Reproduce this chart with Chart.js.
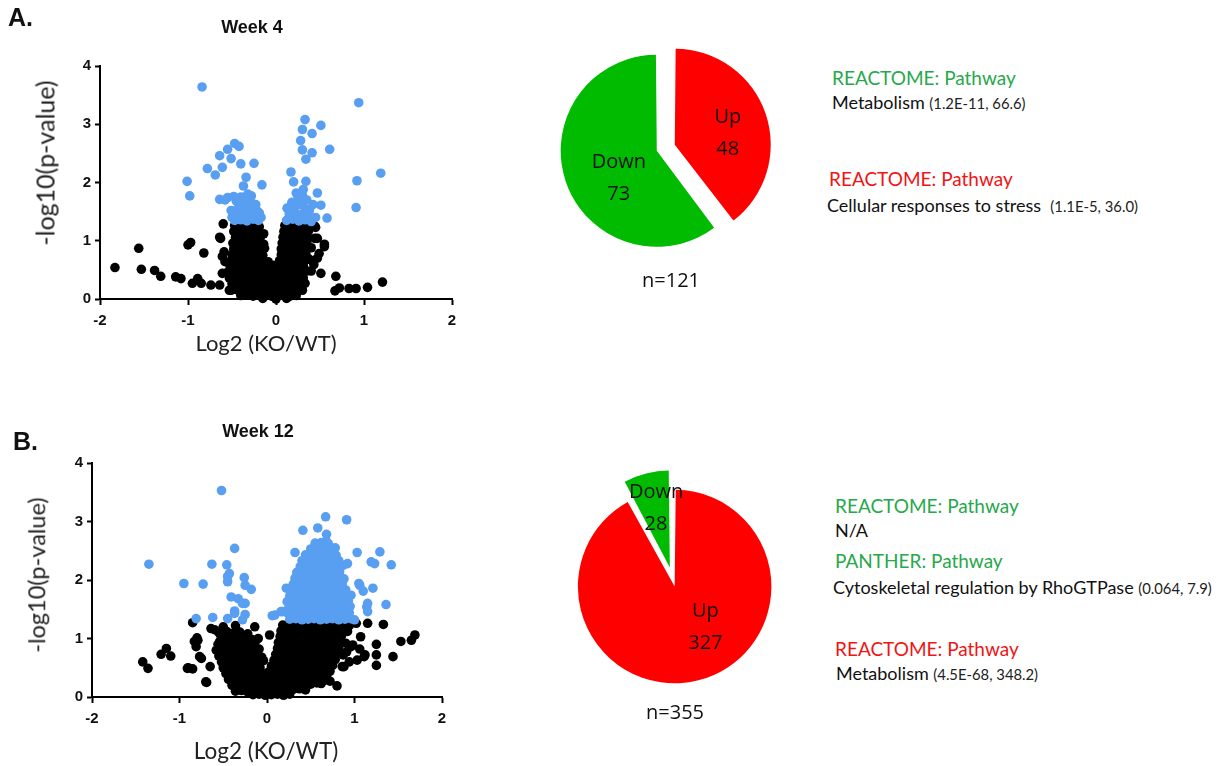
<!DOCTYPE html>
<html>
<head>
<meta charset="utf-8">
<script src="https://cdn.jsdelivr.net/npm/chart.js@4.4.1/dist/chart.umd.min.js"></script>
<style>
html, body { margin: 0; padding: 0; background: #fff; }
#page { position: relative; width: 1225px; height: 766px; overflow: hidden; background: #fff; }
.box { position: absolute; }
.t { position: absolute; white-space: nowrap; line-height: 1; transform: translateY(-50%); color: #111; font-family: Lato, "Open Sans", sans-serif; }
.c { transform: translate(-50%, -50%); }
.rot { transform: translate(-50%, -50%) rotate(-90deg); }
.panel { font-family: "Liberation Sans", Arial, sans-serif; font-weight: bold; font-size: 25px; }
.week { font-family: "Liberation Sans", Arial, sans-serif; font-weight: bold; font-size: 18px; }
.axt { font-size: 22px; color: #222; }
.nlab { font-family: "Open Sans", Lato, sans-serif; font-size: 20px; color: #111; }
.hdr { font-size: 19px; }
.green { color: #27a84b; }
.red { color: #f01414; }
.term { font-size: 18px; color: #111; }
.stat { font-size: 14.8px; color: #222; }
</style>
</head>
<body>
<div id="page">
  <div class="box" style="left:0;top:0;width:470px;height:360px;"><canvas id="volcano4" width="470" height="360"></canvas></div>
  <div class="box" style="left:0;top:400px;width:470px;height:366px;"><canvas id="volcano12" width="470" height="366"></canvas></div>
  <div class="box" style="left:542px;top:29px;width:240px;height:240px;"><canvas id="pie4" width="240" height="240"></canvas></div>
  <div class="box" style="left:553px;top:460px;width:240px;height:240px;"><canvas id="pie12" width="240" height="240"></canvas></div>

  <div class="t panel" style="left:8px;top:17px;">A.</div>
  <div class="t week c" style="left:252px;top:27px;">Week 4</div>
  <div class="t axt rot" style="left:45px;top:163px;font-size:25px;">-log10(p-value)</div>
  <div class="t axt c" style="left:266px;top:343px;">Log2 (KO/WT)</div>
  <div class="t nlab c" style="left:671px;top:280px;">n=121</div>

  <div class="t hdr green" style="left:832px;top:77px;">REACTOME: Pathway</div>
  <div class="t term" style="left:832px;top:102px;">Metabolism <span class="stat">(1.2E-11, 66.6)</span></div>
  <div class="t hdr red" style="left:829px;top:178px;">REACTOME: Pathway</div>
  <div class="t term" style="left:827px;top:205px;">Cellular responses to stress&nbsp; <span class="stat">(1.1E-5, 36.0)</span></div>

  <div class="t panel" style="left:13px;top:441px;">B.</div>
  <div class="t week c" style="left:258px;top:431px;">Week 12</div>
  <div class="t axt rot" style="left:37px;top:575px;font-size:23.5px;">-log10(p-value)</div>
  <div class="t axt c" style="left:266px;top:751px;font-size:22.5px;">Log2 (KO/WT)</div>
  <div class="t nlab c" style="left:675px;top:712px;">n=355</div>

  <div class="t hdr green" style="left:835px;top:505px;">REACTOME: Pathway</div>
  <div class="t term" style="left:835px;top:530px;">N/A</div>
  <div class="t hdr green" style="left:835px;top:560px;">PANTHER: Pathway</div>
  <div class="t term" style="left:833px;top:587px;">Cytoskeletal regulation by RhoGTPase <span class="stat">(0.064, 7.9)</span></div>
  <div class="t hdr red" style="left:835px;top:648px;">REACTOME: Pathway</div>
  <div class="t term" style="left:836px;top:673px;">Metabolism <span class="stat">(4.5E-68, 348.2)</span></div>
</div>

<script>
// Volcano axes: log2 fold change (KO/WT) against -log10(p-value)
const xTicks = [-2, -1, 0, 1, 2];
const yTicks = [0, 1, 2, 3, 4];

// Week 4: significant proteins (p < 0.05)
const week4Significant = [
  [-0.84,3.64],[-0.47,2.67],[-0.42,2.62],[-0.55,2.57],[-0.64,2.46],[-0.51,2.41],[-0.25,2.33],[-0.40,2.32],
  [-0.78,2.24],[-0.61,2.26],[-0.69,2.13],[-0.34,2.09],[-1.01,2.02],[-0.16,1.96],[-0.37,1.94],[-0.98,1.77],
  [-0.64,1.71],[-0.55,1.74],[-0.40,1.75],[-0.28,1.77],[-0.58,1.70],[-0.35,1.75],[-0.32,1.80],
  [-0.47,1.35],[-0.40,1.36],[-0.33,1.34],[-0.26,1.37],[-0.20,1.35],[-0.45,1.45],[-0.38,1.47],[-0.31,1.44],
  [-0.24,1.46],[-0.43,1.56],[-0.36,1.58],[-0.29,1.55],[-0.22,1.52],[-0.33,1.66],[-0.27,1.64],[-0.19,1.48],
  [-0.50,1.40],[-0.41,1.65],[-0.23,1.62],[-0.51,1.52],[-0.17,1.40],[-0.45,1.68],[-0.30,1.72],[-0.48,1.76],
  [0.94,3.37],[0.33,3.08],[0.51,2.98],[0.30,2.91],[0.41,2.84],[0.28,2.72],[0.61,2.57],[0.30,2.56],
  [0.41,2.51],[0.34,2.40],[1.19,2.16],[0.17,2.18],[0.20,2.01],[0.34,2.02],[0.92,2.03],[0.47,1.82],
  [0.91,1.57],[0.51,1.61],[0.58,1.39],[0.125,1.56],
  [0.12,1.35],[0.19,1.37],[0.26,1.34],[0.33,1.36],[0.40,1.33],[0.15,1.46],[0.22,1.48],[0.29,1.45],
  [0.36,1.44],[0.20,1.58],[0.27,1.62],[0.33,1.55],[0.25,1.72],[0.30,1.78],[0.18,1.66],[0.45,1.40],
  [0.31,1.88],[0.29,1.68],[0.38,1.52],[0.35,1.70],[0.23,1.82],[0.42,1.62]
];

// Week 4: non-significant proteins
const week4NonSignificant = [
  [-1.83,0.54],[-1.56,0.87],[-1.53,0.51],[-1.38,0.49],[-1.31,0.39],[-1.14,0.38],[-1.08,0.35],[-0.97,0.97],
  [-1.00,0.93],[-0.89,0.35],[-0.95,0.27],[-0.82,0.79],[-0.74,0.24],[-0.64,0.24],[-0.63,1.04],[-0.60,1.29],
  [-0.59,0.81],[-0.58,0.64],[-0.61,0.44],[-0.53,0.15],[-0.64,1.06],[-0.61,0.73],[-0.85,0.27],[-0.51,0.15],
  [1.21,0.29],[1.04,0.20],[0.91,0.18],[0.83,0.18],[0.72,0.19],[0.67,0.14],[0.68,0.39],[0.51,0.44],
  [0.55,0.94],[0.47,1.04],[0.45,1.23],[0.49,0.78],[0.55,0.90],[0.44,1.04],[0.43,0.59],[0.47,0.70],[0.40,0.48],
  [-0.47,1.26],[-0.40,1.27],[-0.33,1.25],[-0.26,1.26],[-0.19,1.24],
  [-0.48,1.16],[-0.41,1.17],[-0.34,1.15],[-0.27,1.16],[-0.20,1.17],[-0.14,1.12],
  [-0.46,1.06],[-0.39,1.07],[-0.32,1.05],[-0.25,1.06],[-0.18,1.05],
  [-0.49,0.96],[-0.42,0.97],[-0.35,0.95],[-0.28,0.96],[-0.21,0.97],[-0.14,0.94],
  [-0.48,0.86],[-0.41,0.87],[-0.34,0.85],[-0.27,0.86],[-0.20,0.85],[-0.13,0.87],
  [-0.50,0.76],[-0.43,0.77],[-0.36,0.75],[-0.29,0.76],[-0.22,0.77],[-0.15,0.75],
  [-0.51,0.66],[-0.44,0.67],[-0.37,0.65],[-0.30,0.66],[-0.23,0.65],[-0.16,0.67],[-0.09,0.64],
  [-0.52,0.56],[-0.45,0.57],[-0.38,0.55],[-0.31,0.56],[-0.24,0.57],[-0.17,0.55],[-0.10,0.56],[-0.04,0.58],
  [-0.55,0.46],[-0.48,0.47],[-0.41,0.45],[-0.34,0.46],[-0.27,0.47],[-0.20,0.45],[-0.13,0.46],[-0.06,0.47],
  [0.01,0.45],[0.08,0.46],[0.15,0.47],[0.22,0.45],[0.29,0.46],[0.35,0.48],
  [-0.53,0.36],[-0.46,0.37],[-0.39,0.35],[-0.32,0.36],[-0.25,0.37],[-0.18,0.35],[-0.11,0.36],[-0.04,0.37],
  [0.03,0.35],[0.10,0.36],[0.17,0.37],[0.24,0.35],[0.31,0.36],
  [-0.50,0.26],[-0.43,0.27],[-0.36,0.25],[-0.29,0.26],[-0.22,0.27],[-0.15,0.25],[-0.08,0.26],[-0.01,0.27],
  [0.06,0.25],[0.13,0.26],[0.20,0.27],[0.27,0.25],[0.33,0.27],
  [-0.45,0.16],[-0.38,0.17],[-0.31,0.15],[-0.24,0.16],[-0.17,0.17],[-0.10,0.15],[-0.03,0.16],[0.04,0.17],
  [0.11,0.15],[0.18,0.16],[0.25,0.17],[0.30,0.15],
  [-0.40,0.06],[-0.33,0.07],[-0.26,0.05],[-0.19,0.06],[-0.12,0.07],[-0.05,0.05],[0.02,0.06],[0.09,0.07],
  [0.16,0.05],[0.23,0.06],[-0.15,0.01],[0.00,0.00],[0.12,0.01],
  [0.10,1.26],[0.17,1.27],[0.24,1.25],[0.31,1.26],[0.38,1.27],[0.44,1.25],
  [0.09,1.16],[0.16,1.17],[0.23,1.15],[0.30,1.16],[0.37,1.17],
  [0.08,1.06],[0.15,1.07],[0.22,1.05],[0.29,1.06],[0.36,1.05],
  [0.07,0.96],[0.14,0.97],[0.21,0.95],[0.28,0.96],[0.35,0.97],
  [0.06,0.86],[0.13,0.87],[0.20,0.85],[0.27,0.86],[0.34,0.85],[0.40,0.88],
  [0.06,0.76],[0.13,0.77],[0.20,0.75],[0.27,0.76],[0.34,0.77],
  [0.04,0.66],[0.11,0.67],[0.18,0.65],[0.25,0.66],[0.32,0.65],[0.38,0.68],
  [0.03,0.56],[0.10,0.57],[0.17,0.55],[0.24,0.56],[0.31,0.57]
];

// Week 12: significant proteins (p < 0.05)
const week12Significant = [
  [-0.52,3.53],[-0.37,2.54],[-1.35,2.27],[-0.63,2.27],[-0.46,2.26],[-0.43,2.11],[-0.45,1.97],[-0.95,1.94],
  [-0.73,1.93],[-0.26,2.04],[-0.25,1.91],[-0.18,1.84],[-0.41,1.71],[-0.33,1.68],[-0.25,1.60],[-0.37,1.47],
  [-0.25,1.41],[-0.81,1.34],[-0.62,1.36],[-0.45,1.34],[-0.28,1.32],[-0.45,2.06],[-0.28,1.60],[-0.37,1.43],
  [0.06,1.39],
  [0.67,3.08],[0.91,3.03],[0.41,2.85],[0.58,2.89],[0.68,2.78],[0.68,2.66],[0.32,2.47],[1.03,2.47],
  [1.29,2.48],[1.19,2.31],[1.42,2.26],[1.21,1.86],[1.36,1.58],[1.14,1.54],[1.15,1.46],[1.10,1.81],
  [1.05,1.94],[0.09,1.40],[0.16,1.46],[0.22,1.86],[1.23,2.28],[1.15,1.60],[1.00,1.32],[0.92,2.28],
  [1.06,1.91],[0.18,1.46],
  [0.26,1.33],[0.33,1.34],[0.40,1.32],[0.47,1.33],[0.54,1.34],[0.61,1.32],[0.68,1.33],[0.75,1.34],[0.82,1.32],[0.89,1.33],[0.96,1.34],
  [0.24,1.43],[0.31,1.44],[0.38,1.42],[0.45,1.43],[0.52,1.44],[0.59,1.42],[0.66,1.43],[0.73,1.44],[0.80,1.42],[0.87,1.43],[0.94,1.44],
  [0.25,1.53],[0.32,1.54],[0.39,1.52],[0.46,1.53],[0.53,1.54],[0.60,1.52],[0.67,1.53],[0.74,1.54],[0.81,1.52],[0.88,1.53],[0.95,1.55],
  [0.23,1.63],[0.30,1.64],[0.37,1.62],[0.44,1.63],[0.51,1.64],[0.58,1.62],[0.65,1.63],[0.72,1.64],[0.79,1.62],[0.86,1.63],[0.93,1.64],
  [0.26,1.73],[0.33,1.74],[0.40,1.72],[0.47,1.73],[0.54,1.74],[0.61,1.72],[0.68,1.73],[0.75,1.74],[0.82,1.72],[0.89,1.73],[0.96,1.74],
  [0.27,1.83],[0.34,1.84],[0.41,1.82],[0.48,1.83],[0.55,1.84],[0.62,1.82],[0.69,1.83],[0.76,1.84],[0.83,1.82],[0.90,1.83],
  [0.30,1.93],[0.37,1.94],[0.44,1.92],[0.51,1.93],[0.58,1.94],[0.65,1.92],[0.72,1.93],[0.79,1.94],[0.86,1.92],
  [0.32,2.03],[0.39,2.04],[0.46,2.02],[0.53,2.03],[0.60,2.04],[0.67,2.02],[0.74,2.03],[0.81,2.04],[0.88,2.02],
  [0.34,2.13],[0.41,2.14],[0.48,2.12],[0.55,2.13],[0.62,2.14],[0.69,2.12],[0.76,2.13],[0.83,2.14],
  [0.38,2.23],[0.45,2.24],[0.52,2.22],[0.59,2.23],[0.66,2.24],[0.73,2.22],[0.80,2.23],[0.87,2.25],
  [0.40,2.33],[0.47,2.34],[0.54,2.32],[0.61,2.33],[0.68,2.34],[0.75,2.32],[0.82,2.33],
  [0.44,2.43],[0.51,2.44],[0.58,2.42],[0.65,2.43],[0.72,2.44],[0.79,2.42],
  [0.50,2.53],[0.57,2.54],[0.64,2.52],[0.71,2.53],[0.78,2.55],
  [0.55,2.63],[0.62,2.64],[0.70,2.62]
];

// Week 12: non-significant proteins
const week12NonSignificant = [
  [-1.42,0.60],[-1.36,0.49],[-1.21,0.73],[-1.15,0.83],[-1.10,0.70],[-0.90,0.50],[-0.85,0.48],[-0.85,1.27],
  [-0.83,0.95],[-0.80,1.01],[-0.69,0.25],[-0.77,0.69],[-0.65,0.52],[-0.64,1.17],[-0.54,0.95],[0.03,1.06],
  [-0.60,1.15],[-0.79,0.97],[-0.81,0.86],[-0.75,0.66],[-0.91,0.49],[-0.70,0.26],[-0.53,1.06],[-0.41,0.83],[-0.34,0.12],
  [-0.50,1.20],[-0.36,1.22],[-0.14,1.20],
  [-0.55,1.10],[-0.46,1.12],[-0.39,1.09],[-0.31,1.11],[-0.22,1.08],
  [-0.52,1.00],[-0.45,1.01],[-0.38,0.99],[-0.31,1.00],[-0.24,1.02],[-0.17,0.98],[-0.10,1.00],
  [-0.56,0.90],[-0.49,0.91],[-0.42,0.89],[-0.35,0.90],[-0.28,0.91],[-0.21,0.89],[-0.14,0.92],
  [-0.58,0.80],[-0.51,0.81],[-0.44,0.79],[-0.37,0.80],[-0.30,0.81],[-0.23,0.79],[-0.16,0.80],[-0.09,0.82],
  [-0.55,0.70],[-0.48,0.71],[-0.41,0.69],[-0.34,0.70],[-0.27,0.71],[-0.20,0.69],[-0.13,0.70],[-0.06,0.68],
  [-0.52,0.60],[-0.45,0.61],[-0.38,0.59],[-0.31,0.60],[-0.24,0.61],[-0.17,0.59],[-0.10,0.60],[-0.04,0.62],
  [-0.50,0.50],[-0.43,0.51],[-0.36,0.49],[-0.29,0.50],[-0.22,0.51],[-0.15,0.49],[-0.08,0.50],
  [-0.47,0.40],[-0.40,0.41],[-0.33,0.39],[-0.26,0.40],[-0.19,0.41],[-0.12,0.39],[-0.05,0.40],
  [-0.44,0.30],[-0.37,0.31],[-0.30,0.29],[-0.23,0.30],[-0.16,0.31],[-0.09,0.29],
  [-0.40,0.20],[-0.33,0.21],[-0.26,0.19],[-0.19,0.20],[-0.13,0.22],
  [-0.36,0.10],[-0.29,0.11],[-0.22,0.09],
  [1.69,1.06],[1.65,0.97],[1.53,0.95],[1.44,0.69],[1.33,1.24],[1.15,1.26],[1.25,0.90],[1.25,0.72],
  [1.25,0.54],[1.12,0.72],[1.07,1.03],[0.98,0.89],[0.91,0.77],[0.86,0.52],[0.80,0.19],[0.66,0.29],
  [1.03,0.63],[0.96,0.86],[0.88,0.52],[0.62,0.23],[1.11,0.69],[1.02,1.26],[0.94,0.60],[1.06,0.82],[0.72,0.27],
  [0.18,1.23],[0.25,1.24],[0.32,1.22],[0.39,1.23],[0.46,1.24],[0.53,1.22],[0.60,1.23],[0.67,1.24],[0.74,1.22],[0.81,1.23],[0.88,1.24],[0.94,1.22],
  [0.16,1.13],[0.23,1.14],[0.30,1.12],[0.37,1.13],[0.44,1.14],[0.51,1.12],[0.58,1.13],[0.65,1.14],[0.72,1.12],[0.79,1.13],[0.86,1.14],[0.92,1.12],
  [0.15,1.03],[0.22,1.04],[0.29,1.02],[0.36,1.03],[0.43,1.04],[0.50,1.02],[0.57,1.03],[0.64,1.04],[0.71,1.02],[0.78,1.03],[0.85,1.04],
  [0.13,0.93],[0.20,0.94],[0.27,0.92],[0.34,0.93],[0.41,0.94],[0.48,0.92],[0.55,0.93],[0.62,0.94],[0.69,0.92],[0.76,0.93],[0.83,0.94],[0.90,0.92],
  [0.12,0.83],[0.19,0.84],[0.26,0.82],[0.33,0.83],[0.40,0.84],[0.47,0.82],[0.54,0.83],[0.61,0.84],[0.68,0.82],[0.75,0.83],[0.82,0.84],
  [0.10,0.73],[0.17,0.74],[0.24,0.72],[0.31,0.73],[0.38,0.74],[0.45,0.72],[0.52,0.73],[0.59,0.74],[0.66,0.72],[0.73,0.73],[0.80,0.74],[0.87,0.72],
  [0.08,0.63],[0.15,0.64],[0.22,0.62],[0.29,0.63],[0.36,0.64],[0.43,0.62],[0.50,0.63],[0.57,0.64],[0.64,0.62],[0.71,0.63],[0.78,0.64],
  [0.05,0.53],[0.12,0.54],[0.19,0.52],[0.26,0.53],[0.33,0.54],[0.40,0.52],[0.47,0.53],[0.54,0.54],[0.61,0.52],[0.68,0.53],[0.75,0.54],
  [0.02,0.43],[0.09,0.44],[0.16,0.42],[0.23,0.43],[0.30,0.44],[0.37,0.42],[0.44,0.43],[0.51,0.44],[0.58,0.42],[0.65,0.43],[0.72,0.44],
  [-0.02,0.33],[0.05,0.34],[0.12,0.32],[0.19,0.33],[0.26,0.34],[0.33,0.32],[0.40,0.33],[0.47,0.34],[0.54,0.32],[0.61,0.33],[0.68,0.35],
  [-0.06,0.23],[0.01,0.24],[0.08,0.22],[0.15,0.23],[0.22,0.24],[0.29,0.22],[0.36,0.23],[0.43,0.24],[0.50,0.22],[0.57,0.24],
  [-0.12,0.13],[-0.05,0.14],[0.02,0.12],[0.09,0.13],[0.16,0.14],[0.23,0.12],[0.30,0.13],[0.37,0.14],[0.44,0.12],
  [-0.16,0.04],[-0.09,0.05],[-0.02,0.03],[0.05,0.04],[0.12,0.05],[0.19,0.03],[0.26,0.05]
];

// Direction of change counts for the pies
const directionLabels = ['Up', 'Down'];
const week4Counts = [48, 73];
const week12Counts = [327, 28];
const directionColors = ['#ff0000', '#00bb00'];

const SIG_BLUE = '#589ef1';
const INK = '#000000';
const tickFont = { family: '"Liberation Sans", Arial, sans-serif', weight: 'bold', size: 15 };

function toPoints(pairs) {
  return pairs.map(p => ({ x: p[0], y: p[1] }));
}

function axis(min, max, ticks, fitKey, fitValue, tickLength, pad) {
  return {
    type: 'linear',
    min: min,
    max: max,
    afterBuildTicks: s => { s.ticks = ticks.map(v => ({ value: v })); },
    afterFit: s => { s[fitKey] = fitValue; },
    ticks: { font: tickFont, color: '#111', padding: pad },
    grid: { drawOnChartArea: false, drawTicks: true, tickLength: tickLength, tickWidth: 2, tickColor: INK, color: INK },
    border: { display: true, color: INK, width: 2 }
  };
}

function volcano(id, sig, nonSig, frame) {
  return new Chart(document.getElementById(id), {
    type: 'scatter',
    data: {
      datasets: [
        { data: toPoints(sig), backgroundColor: SIG_BLUE, pointRadius: 4.8, pointBorderWidth: 0, clip: false },
        { data: toPoints(nonSig), backgroundColor: INK, pointRadius: 4.8, pointBorderWidth: 0, clip: false }
      ]
    },
    options: {
      responsive: false,
      animation: false,
      events: [],
      layout: { padding: { left: 0, top: frame.top, right: frame.right, bottom: 0 } },
      plugins: { legend: { display: false }, tooltip: { enabled: false } },
      scales: {
        x: axis(-2, 2, xTicks, 'height', frame.xAxisHeight, 6, 7),
        y: axis(0, 4, yTicks, 'width', frame.yAxisWidth, 5, 4)
      }
    }
  });
}

volcano('volcano4', week4Significant, week4NonSignificant, { top: 66, right: 18, xAxisHeight: 61, yAxisWidth: 100 });
volcano('volcano12', week12Significant, week12NonSignificant, { top: 63, right: 28, xAxisHeight: 69, yAxisWidth: 92 });

// Writes the category name and its count inside each slice.
// Chart.js moves an exploded arc outward by a quarter of its offset option.
const sliceLabels = {
  id: 'sliceLabels',
  afterDatasetsDraw(chart, args, opts) {
    const ctx = chart.ctx;
    const meta = chart.getDatasetMeta(0);
    const values = chart.data.datasets[0].data;
    ctx.save();
    ctx.font = opts.font;
    ctx.fillStyle = opts.color;
    ctx.textAlign = 'center';
    ctx.textBaseline = 'middle';
    meta.data.forEach((arc, i) => {
      const p = arc.getProps(['x', 'y', 'startAngle', 'endAngle'], true);
      const mid = (p.startAngle + p.endAngle) / 2;
      const d = (arc.options.offset || 0) / 4 + opts.distance;
      const n = opts.nudge[i] || [0, 0];
      const cx = p.x + Math.cos(mid) * d + n[0];
      const cy = p.y + Math.sin(mid) * d + n[1];
      ctx.fillText(chart.data.labels[i], cx, cy - opts.lineGap / 2);
      ctx.fillText(String(values[i]), cx, cy + opts.lineGap / 2);
    });
    ctx.restore();
  }
};

// Each slice's offset sets how far it is pulled out; the drawn radius also
// grows with the offset, so the base radius is chosen to keep both slices ~96px.
function pie(id, counts, offsets, radius, nudge) {
  return new Chart(document.getElementById(id), {
    type: 'pie',
    data: {
      labels: directionLabels,
      datasets: [{ data: counts, backgroundColor: directionColors, borderWidth: 0, offset: offsets }]
    },
    options: {
      responsive: false,
      animation: false,
      events: [],
      radius: radius,
      layout: { padding: 0 },
      plugins: {
        legend: { display: false },
        tooltip: { enabled: false },
        sliceLabels: { font: '20px "Open Sans", Lato, sans-serif', color: '#111', distance: 48, lineGap: 32, nudge: nudge }
      }
    },
    plugins: [sliceLabels]
  });
}

pie('pie4', week4Counts, [54, 22], 90.6, [[7.5, 4], [7.5, 12]]);
pie('pie12', week12Counts, [27, 52], 90, [[19, -5.5], [-2, -13]]);
</script>
</body>
</html>
